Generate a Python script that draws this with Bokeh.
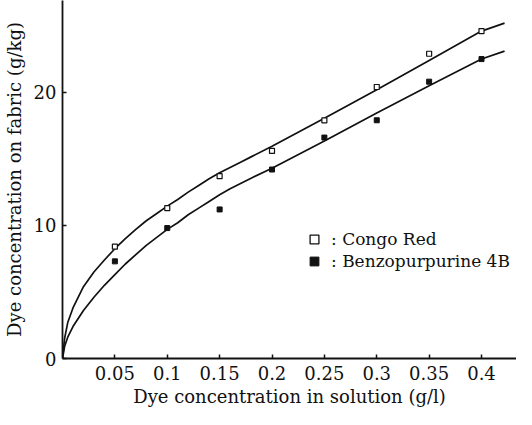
from bokeh.plotting import figure
from bokeh.models import Range1d, FixedTicker, Legend, LegendItem
from bokeh.embed import file_html
from bokeh.resources import INLINE

# Measured points
conc = [0.05, 0.10, 0.15, 0.20, 0.25, 0.30, 0.35, 0.40]
congo_red = [8.4, 11.3, 13.7, 15.6, 17.9, 20.4, 22.9, 24.6]
benzo_4b = [7.3, 9.8, 11.2, 14.2, 16.6, 17.9, 20.8, 22.5]

# Fitted curves
curve_x = [0, 0.002, 0.005, 0.01, 0.02, 0.03, 0.04, 0.05, 0.06, 0.07, 0.08, 0.09, 0.10,
           0.11, 0.12, 0.13, 0.14, 0.15, 0.16, 0.17, 0.18, 0.20, 0.25, 0.30, 0.35, 0.40, 0.422]
congo_curve_y = [0, 1.5, 2.7, 3.8, 5.4, 6.5, 7.4, 8.25, 9.0, 9.7, 10.35, 10.9, 11.45,
                 11.95, 12.5, 13.0, 13.5, 13.95, 14.35, 14.75, 15.15, 15.95, 18.05, 20.2, 22.4, 24.6, 25.2]
benzo_curve_y = [0, 0.9, 1.6, 2.4, 3.6, 4.6, 5.5, 6.3, 7.1, 7.8, 8.5, 9.1, 9.7,
                 10.2, 10.8, 11.3, 11.8, 12.3, 12.75, 13.15, 13.55, 14.3, 16.35, 18.45, 20.5, 22.5, 23.1]

x_ticks = [0.05, 0.1, 0.15, 0.2, 0.25, 0.3, 0.35, 0.4]
x_tick_labels = ["0.05", "0.1", "0.15", "0.2", "0.25", "0.3", "0.35", "0.4"]
y_ticks = [0, 10, 20]
y_tick_labels = ["0", "10", "20"]

FONT = "DejaVu Serif"
INK = "#111111"
NAN = float("nan")

p = figure(width=516, height=409, x_range=Range1d(0, 0.4334), y_range=Range1d(0, 26.9),
           output_backend="svg", toolbar_location=None,
           min_border_left=54, min_border_right=0, min_border_top=0, min_border_bottom=51)
p.outline_line_color = None
p.grid.visible = False
p.background_fill_color = "white"

for ax in (p.xaxis[0], p.yaxis[0]):
    ax.axis_line_width = 1.8
    ax.axis_line_color = INK
    ax.major_tick_line_color = INK
    ax.major_tick_line_width = 1.5
    ax.major_tick_in = 4
    ax.major_tick_out = 0
    ax.minor_tick_line_color = None
    ax.major_label_text_font = FONT
    ax.major_label_text_font_size = "18px"
    ax.major_label_text_color = INK
    ax.axis_label_text_font = FONT
    ax.axis_label_text_font_size = "18px"
    ax.axis_label_text_font_style = "normal"
    ax.axis_label_text_color = INK

p.xaxis.ticker = FixedTicker(ticks=x_ticks)
p.xaxis.major_label_overrides = dict(zip(x_ticks, x_tick_labels))
p.xaxis.major_label_standoff = 7
p.xaxis.axis_label = "Dye concentration in solution (g/l)"
p.xaxis.axis_label_standoff = 3

p.yaxis.ticker = FixedTicker(ticks=y_ticks)
p.yaxis.major_label_overrides = dict(zip(y_ticks, y_tick_labels))
p.yaxis.major_label_standoff = 6
p.yaxis.axis_label = "Dye concentration on fabric (g/kg)"
p.yaxis.axis_label_standoff = 6

p.line(curve_x, congo_curve_y, line_width=1.7, color=INK)
p.line(curve_x, benzo_curve_y, line_width=1.7, color=INK)

p.scatter(conc, congo_red, marker="square", size=5, fill_color="white",
          line_color=INK, line_width=1.2)
p.scatter(conc, benzo_4b, marker="square", size=5, fill_color=INK,
          line_color=INK, line_width=1)

# legend-only renderers (bigger markers, no visible data)
leg_open = p.scatter(x=[NAN], y=[NAN], marker="square", size=9, fill_color="white",
                     line_color=INK, line_width=1.3)
leg_fill = p.scatter(x=[NAN], y=[NAN], marker="square", size=9, fill_color=INK,
                     line_color=INK, line_width=1)

legend = Legend(items=[LegendItem(label=": Congo Red", renderers=[leg_open]),
                       LegendItem(label=": Benzopurpurine 4B", renderers=[leg_fill])],
                location=(241, 86), padding=0, margin=0, spacing=-2,
                glyph_width=22, glyph_height=22, label_height=20, label_standoff=6,
                border_line_color=None, background_fill_alpha=0,
                label_text_font=FONT, label_text_font_size="17px", label_text_color=INK)
p.add_layout(legend)

open("out.html", "w").write(file_html(p, INLINE))
